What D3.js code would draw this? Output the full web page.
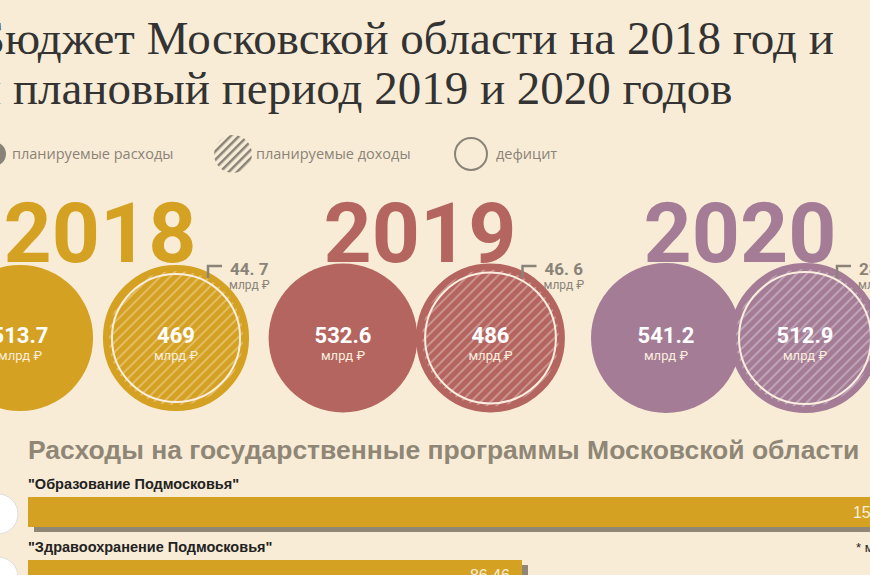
<!DOCTYPE html><html><head><meta charset="utf-8">
<script src="https://cdn.jsdelivr.net/npm/d3@7"></script>
<style>body{margin:0;background:#f8ecd6}svg{display:block}</style></head><body>
<svg width="870" height="575"></svg>
<script>
const years=["2018","2019","2020"];
const expenses=[513.7,532.6,541.2];
const incomes=[469,486,512.9];
const deficits=["44. 7","46. 6","28. 3"];
const colors=["#d5a122","#b5655f","#a47c96"];
const programs=['"Образование Подмосковья"','"Здравоохранение Подмосковья"'];
const programValues=[155.2,86.46];
const programLabels=["155.2","86.46"];

const svg=d3.select("svg");
const defs=svg.append("defs");
colors.forEach((c,i)=>{
  const p=defs.append("pattern").attr("id","h"+i).attr("width",7).attr("height",7)
    .attr("patternUnits","userSpaceOnUse").attr("patternTransform","rotate(45)");
  p.append("rect").attr("width",7).attr("height",7).attr("fill",c);
  p.append("rect").attr("width",2).attr("height",7).attr("fill","#ffffff").attr("opacity",0.3);
});
const gp=defs.append("pattern").attr("id","hg").attr("width",6).attr("height",6)
  .attr("patternUnits","userSpaceOnUse").attr("patternTransform","rotate(45)");
gp.append("rect").attr("width",2.5).attr("height",6).attr("fill","#8a8378");

svg.append("rect").attr("width",870).attr("height",575).attr("fill","#f8ecd6");
const tf="'Liberation Serif',serif";
svg.append("text").attr("x",-22).attr("y",54).attr("font-family",tf).attr("font-size",47).attr("fill","#333")
 .text("Бюджет Московской области на 2018 год и");
svg.append("text").attr("x",-24).attr("y",104).attr("font-family",tf).attr("font-size",47).attr("fill","#333")
 .text("и плановый период 2019 и 2020 годов");
const lg=svg.append("g").attr("font-family","'Open Sans',sans-serif").attr("font-size",14.5).attr("fill","#8a8378");
lg.append("circle").attr("cx",-6).attr("cy",154).attr("r",12).attr("fill","#8a8378");
lg.append("text").attr("x",12).attr("y",159).text("планируемые расходы");
lg.append("circle").attr("cx",233).attr("cy",154).attr("r",19).attr("fill","url(#hg)");
lg.append("text").attr("x",256).attr("y",159).text("планируемые доходы");
lg.append("circle").attr("cx",471).attr("cy",154).attr("r",16).attr("fill","none").attr("stroke","#8a8378").attr("stroke-width",2);
lg.append("text").attr("x",496).attr("y",159).text("дефицит");

const r=d3.scaleSqrt().domain([0,541.2]).range([0,75]);
const yx=d3.scalePoint().domain(years).range([100,740]);
const ex=d3.scalePoint().domain(years).range([20,666]);
const ix=d3.scalePoint().domain(years).range([176,805]);
const cy=338;
const g=svg.append("g").attr("font-family","Roboto,sans-serif");
years.forEach((y,i)=>{
  g.append("text").attr("x",yx(y)).attr("y",262).attr("text-anchor","middle").attr("font-size",84)
   .attr("font-weight","bold").attr("fill",colors[i]).text(y);
  g.append("circle").attr("cx",ex(y)).attr("cy",cy).attr("r",r(expenses[i])).attr("fill",colors[i]);
  const R=r(expenses[i])-3;
  g.append("circle").attr("cx",ix(y)).attr("cy",cy).attr("r",R).attr("fill","url(#h"+i+")");
  g.append("circle").attr("cx",ix(y)).attr("cy",cy).attr("r",R).attr("fill","none").attr("stroke",colors[i]).attr("stroke-width",6);
  g.append("circle").attr("cx",ix(y)).attr("cy",cy).attr("r",R-6).attr("fill","none").attr("stroke","#fbeede").attr("stroke-width",2);
  [[ex(y),expenses[i]],[ix(y),incomes[i]]].forEach(([x,v])=>{
    g.append("text").attr("x",x).attr("y",cy+5).attr("text-anchor","middle").attr("font-size",22).attr("font-weight","bold").attr("fill","#fff").text(v);
    g.append("text").attr("x",x).attr("y",cy+22).attr("text-anchor","middle").attr("font-size",13).attr("fill","#fbeede").text("млрд ₽");
  });
  const bx=ix(y)+32, by=266;
  g.append("path").attr("d",`M${bx},${by+12}V${by}H${bx+14}`).attr("fill","none").attr("stroke","#8a8378").attr("stroke-width",2.5);
  g.append("text").attr("x",bx+22).attr("y",by+9).attr("font-size",17).attr("font-weight","bold").attr("fill","#8a8378").text(deficits[i]);
  g.append("text").attr("x",bx+21).attr("y",by+23).attr("font-size",12).attr("fill","#8a8378").text("млрд ₽");
});
const nf="'Liberation Sans Narrow','Liberation Sans',sans-serif";
svg.append("text").attr("x",28).attr("y",459).attr("font-family",nf).attr("font-weight","bold").attr("font-size",26.5).attr("fill","#8f8676")
 .text("Расходы на государственные программы Московской области");
const xs=d3.scaleLinear().domain([0,86.46]).range([28,522]);
const rows=d3.scaleOrdinal().domain(programs).range([497,560]);
programs.forEach((p,i)=>{
  const y0=rows(p);
  svg.append("circle").attr("cx",-2).attr("cy",y0+17).attr("r",20).attr("fill","#fff").attr("stroke","#ddd");
  svg.append("text").attr("x",28).attr("y",y0-8).attr("font-family",nf).attr("font-weight","bold").attr("font-size",14.5).attr("fill","#222").text(p);
  svg.append("rect").attr("x",34).attr("y",y0+5).attr("width",xs(programValues[i])-28).attr("height",30).attr("fill","#8f8676");
  svg.append("rect").attr("x",28).attr("y",y0).attr("width",xs(programValues[i])-28).attr("height",30).attr("fill","#d5a122");
  svg.append("text").attr("x",Math.min(xs(programValues[i]),905)-12).attr("y",y0+21).attr("text-anchor","end").attr("font-family",nf).attr("font-size",16).attr("fill","#fbeede").text(programLabels[i]);
});
svg.append("text").attr("x",856).attr("y",552).attr("font-family",nf).attr("font-size",13).attr("fill","#222").text("* млрд ₽");
</script></body></html>
